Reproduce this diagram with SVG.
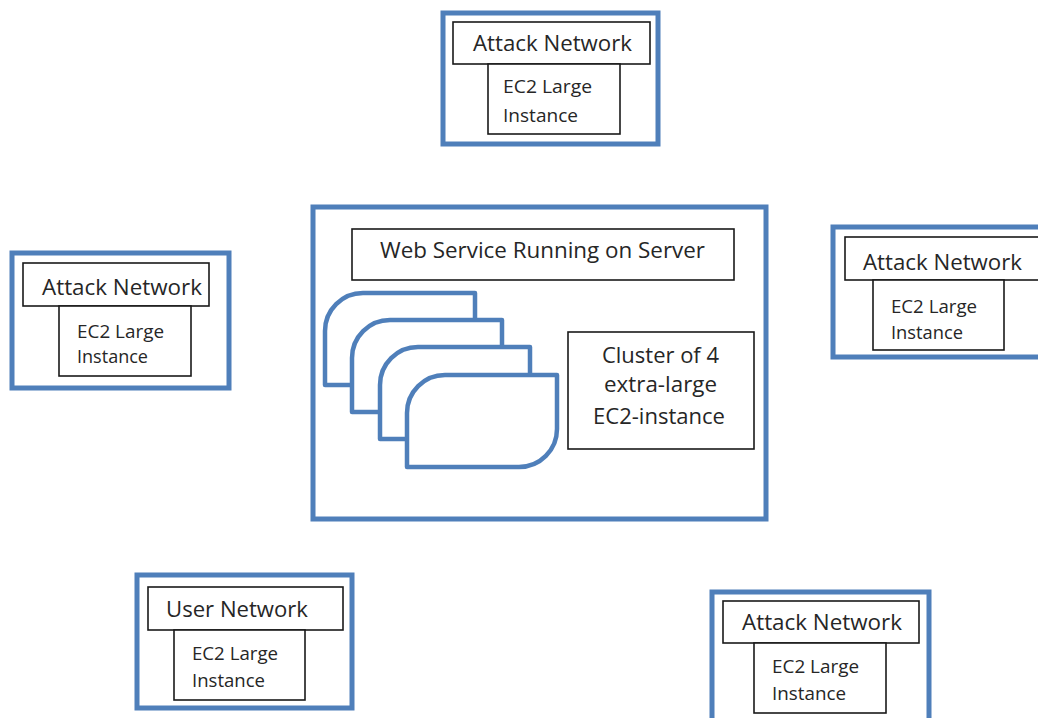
<svg xmlns="http://www.w3.org/2000/svg" width="1038" height="718" viewBox="0 0 1038 718">
<style>
.outer{fill:#ffffff;stroke:#4f7fba;stroke-width:5}
.box{fill:#ffffff;stroke:#1a1a1a;stroke-width:1.6}
.card{fill:#ffffff;stroke:#4f7fba;stroke-width:4.5;stroke-linejoin:round}
.t{font-family:"Open Sans","Liberation Sans",sans-serif;fill:#262626;font-size:21px}
.s{font-family:"Open Sans","Liberation Sans",sans-serif;fill:#262626;font-size:18px}
</style>
<rect width="1038" height="718" fill="#ffffff"/>
<g id="connectors"/>
<g id="attack-top">
<rect class="outer" x="443" y="13" width="215" height="131"/>
<rect class="box" x="453" y="22" width="197" height="42"/>
<rect class="box" x="488" y="64" width="132" height="70"/>
<text class="t" x="473" y="51" textLength="159" lengthAdjust="spacingAndGlyphs">Attack Network</text>
<text class="s" x="503" y="93" textLength="89" lengthAdjust="spacingAndGlyphs">EC2 Large</text>
<text class="s" x="503" y="122" textLength="75" lengthAdjust="spacingAndGlyphs">Instance</text>
</g>
<g id="server">
<rect class="outer" x="313" y="207" width="453" height="312"/>
<rect class="box" x="352" y="229" width="382" height="51"/>
<text class="t" x="380" y="258" textLength="325" lengthAdjust="spacingAndGlyphs">Web Service Running on Server</text>
<path class="card" d="M325,385 V331 A38,38 0 0 1 363,293 H475 V347 A38,38 0 0 1 437,385 Z"/>
<path class="card" d="M352,412 V358 A38,38 0 0 1 390,320 H502 V374 A38,38 0 0 1 464,412 Z"/>
<path class="card" d="M380,439 V385 A38,38 0 0 1 418,347 H530 V401 A38,38 0 0 1 492,439 Z"/>
<path class="card" d="M407,467 V413 A38,38 0 0 1 445,375 H557 V429 A38,38 0 0 1 519,467 Z"/>
<rect class="box" x="568" y="332" width="186" height="117"/>
<text class="t" x="602" y="363" textLength="117" lengthAdjust="spacingAndGlyphs">Cluster of 4</text>
<text class="t" x="604" y="392" textLength="113" lengthAdjust="spacingAndGlyphs">extra-large</text>
<text class="t" x="593" y="424" textLength="132" lengthAdjust="spacingAndGlyphs">EC2-instance</text>
</g>
<g id="attack-left">
<rect class="outer" x="12" y="253" width="217" height="135"/>
<rect class="box" x="23" y="263" width="186" height="43"/>
<rect class="box" x="59" y="306" width="132" height="70"/>
<text class="t" x="42" y="295" textLength="160" lengthAdjust="spacingAndGlyphs">Attack Network</text>
<text class="s" x="77" y="338" textLength="87" lengthAdjust="spacingAndGlyphs">EC2 Large</text>
<text class="s" x="77" y="363" textLength="71" lengthAdjust="spacingAndGlyphs">Instance</text>
</g>
<g id="attack-right">
<rect class="outer" x="833" y="227" width="225" height="130"/>
<rect class="box" x="845" y="237" width="200" height="43"/>
<rect class="box" x="873" y="280" width="131" height="70"/>
<text class="t" x="863" y="270" textLength="159" lengthAdjust="spacingAndGlyphs">Attack Network</text>
<text class="s" x="891" y="313" textLength="86" lengthAdjust="spacingAndGlyphs">EC2 Large</text>
<text class="s" x="891" y="339" textLength="72" lengthAdjust="spacingAndGlyphs">Instance</text>
</g>
<g id="user">
<rect class="outer" x="137" y="575" width="215" height="133"/>
<rect class="box" x="148" y="587" width="195" height="43"/>
<rect class="box" x="174" y="630" width="131" height="70"/>
<text class="t" x="166" y="617" textLength="142" lengthAdjust="spacingAndGlyphs">User Network</text>
<text class="s" x="192" y="660" textLength="86" lengthAdjust="spacingAndGlyphs">EC2 Large</text>
<text class="s" x="192" y="687" textLength="73" lengthAdjust="spacingAndGlyphs">Instance</text>
</g>
<g id="attack-bottom">
<rect class="outer" x="712" y="592" width="217" height="140"/>
<rect class="box" x="723" y="601" width="196" height="42"/>
<rect class="box" x="754" y="643" width="132" height="70"/>
<text class="t" x="742" y="630" textLength="160" lengthAdjust="spacingAndGlyphs">Attack Network</text>
<text class="s" x="772" y="673" textLength="87" lengthAdjust="spacingAndGlyphs">EC2 Large</text>
<text class="s" x="772" y="700" textLength="74" lengthAdjust="spacingAndGlyphs">Instance</text>
</g>
</svg>
